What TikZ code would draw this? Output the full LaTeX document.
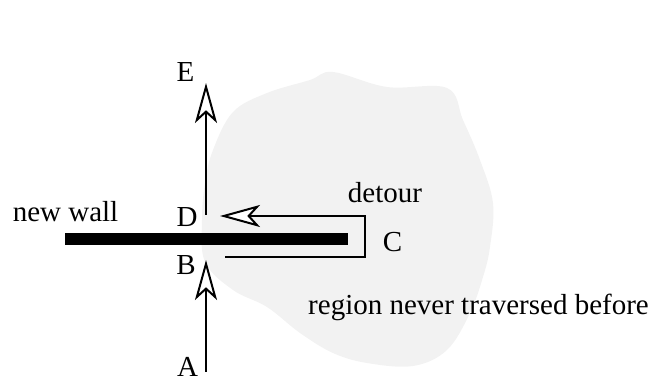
\documentclass[tikz,border=0pt]{standalone}
\usepackage{fontspec}
\setmainfont{Liberation Serif}
\usetikzlibrary{arrows.meta}
\begin{document}
\begin{tikzpicture}[x=1pt,y=-1pt,
  lbl/.style={inner sep=0pt,anchor=base,font=\fontsize{29}{34}\selectfont},
  path/.style={line width=1.6pt,-{Stealth[open,length=40pt,width=22pt,inset=10pt,fill=white,line width=2pt]}},
  wallbar/.style={fill=black,draw=none},
  blob/.style={fill=gray!10,draw=none}]
\useasboundingbox (0,0) rectangle (657,387);
% region never traversed before
\fill[blob] plot[smooth cycle,tension=0.6] coordinates {
 (333,72) (387,87) (447,88) (463,120) (480,160) (493,203) (490,247)
 (483,277) (470,313) (447,350) (413,366) (367,363) (333,353) (300,333)
 (267,307) (233,290) (205,262) (202,220) (205,183) (213,150) (233,112)
 (267,93) (310,80)};
% wall
\fill[wallbar] (65,233) rectangle (348,245);
% endpoints
\coordinate (a) at (206,372);
\coordinate (b) at (206,260);
\coordinate (d) at (206,215);
\coordinate (e) at (206,83);
\coordinate (s) at (225,257);
\coordinate (c1) at (365,257);
\coordinate (c2) at (365,216);
\coordinate (t) at (220,216);
% paths
\draw[path] (a) -- (b);
\draw[path] (d) -- (e);
\draw[path] (s) -- (c1) -- (c2) -- (t);
% labels
\node[lbl] (la) at (187.5,377) {A};
\node[lbl] (lb) at (186,275) {B};
\node[lbl] (lc) at (392.5,252) {C};
\node[lbl] (ld) at (187,227) {D};
\node[lbl] (le) at (185.5,82) {E};
\node[lbl] (ldet) at (385,203) {detour};
\node[lbl] (lwall) at (65.5,222) {new wall};
\node[lbl] (lreg) at (478.5,315) {region never traversed before};
\end{tikzpicture}
\end{document}
